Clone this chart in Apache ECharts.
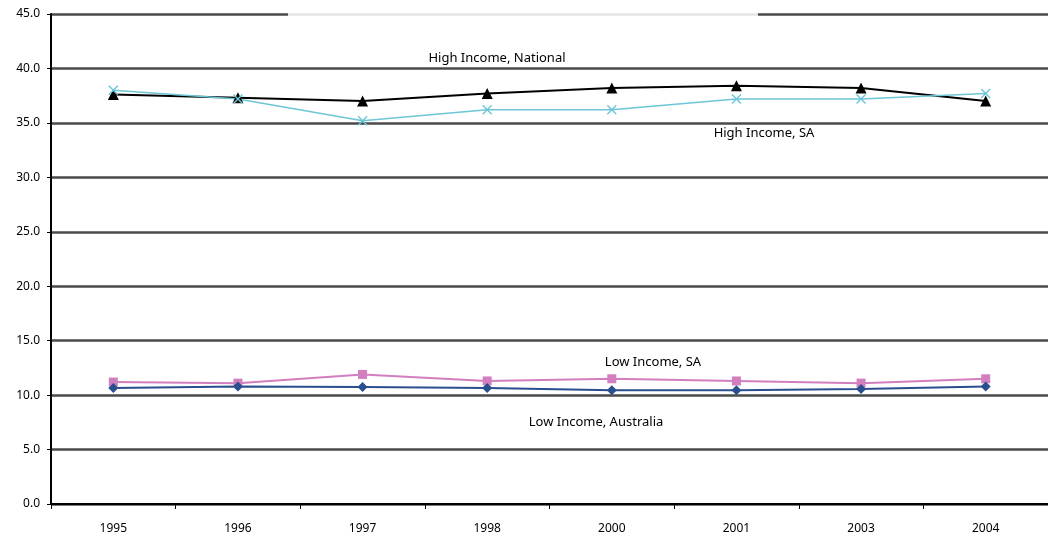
<!DOCTYPE html>
<html>
<head>
<meta charset="utf-8">
<script src="https://cdn.jsdelivr.net/npm/echarts@6/dist/echarts.min.js"></script>
<style>
	html, body { margin: 0; padding: 0; background: #fff; }
	#container { width: 1048px; height: 536px; }
</style>
</head>
<body>
<div id="container"></div>
<script>
var years = ['1995', '1996', '1997', '1998', '2000', '2001', '2003', '2004'];
var highNational = [37.6, 37.3, 37.0, 37.7, 38.2, 38.4, 38.2, 37.0];
var highSA = [38.0, 37.2, 35.2, 36.2, 36.2, 37.2, 37.2, 37.7];
var lowSA = [11.2, 11.1, 11.9, 11.3, 11.5, 11.3, 11.1, 11.5];
var lowAustralia = [10.65, 10.8, 10.75, 10.65, 10.45, 10.45, 10.55, 10.8];

var labelFont = 'Noto Sans';
var crossSymbol = 'path://M0,1L1,0L5,4L9,0L10,1L6,5L10,9L9,10L5,6L1,10L0,9L4,5Z';

var dom = document.getElementById('container');
var myChart = echarts.init(dom);

var option = {
	animation: false,
	backgroundColor: '#fff',
	textStyle: { fontFamily: labelFont },
	grid: {
		left: 51,
		right: -5,
		top: 14,
		bottom: 32,
		containLabel: false
	},
	xAxis: {
		type: 'category',
		data: years,
		boundaryGap: true,
		axisLine: { lineStyle: { color: '#000', width: 2 } },
		axisTick: { show: true, length: 5, lineStyle: { color: '#000', width: 1 } },
		axisLabel: { color: '#000', fontSize: 12, margin: 19, fontFamily: labelFont }
	},
	yAxis: {
		type: 'value',
		min: 0,
		max: 45,
		interval: 5,
		axisLine: { show: true, lineStyle: { color: '#000', width: 2 } },
		axisTick: { show: true, length: 4, lineStyle: { color: '#000' } },
		axisLabel: {
			color: '#000',
			fontSize: 12,
			margin: 11,
			fontFamily: labelFont,
			formatter: function (v) { return v.toFixed(1); }
		},
		splitLine: { show: true, lineStyle: { color: '#4a4a4a', width: 2.5 } }
	},
	series: [
		{
			name: 'High Income, National',
			type: 'line',
			data: highNational,
			symbol: 'triangle',
			symbolSize: 11,
			lineStyle: { color: '#000', width: 2 },
			itemStyle: { color: '#000' }
		},
		{
			name: 'High Income, SA',
			type: 'line',
			data: highSA,
			symbol: crossSymbol,
			symbolSize: 10,
			lineStyle: { color: '#6cc6d6', width: 1.5 },
			itemStyle: { color: '#6cc6d6' }
		},
		{
			name: 'Low Income, SA',
			type: 'line',
			data: lowSA,
			symbol: 'rect',
			symbolSize: 9,
			lineStyle: { color: '#d27fc0', width: 2 },
			itemStyle: { color: '#d27fc0' }
		},
		{
			name: 'Low Income, Australia',
			type: 'line',
			data: lowAustralia,
			symbol: 'diamond',
			symbolSize: 10,
			lineStyle: { color: '#2a4f8f', width: 2 },
			itemStyle: { color: '#2a4f8f' }
		}
	],
	graphic: [
		{
			type: 'rect',
			shape: { x: 288, y: 11, width: 470, height: 6 },
			style: { fill: '#fff', opacity: 0.85 },
			z: 100
		},
		{
			type: 'text',
			x: 497, y: 58,
			style: { text: 'High Income, National', fill: '#000', font: '13px "Noto Sans"', align: 'center', verticalAlign: 'middle' },
			z: 100
		},
		{
			type: 'text',
			x: 764, y: 133,
			style: { text: 'High Income, SA', fill: '#000', font: '13px "Noto Sans"', align: 'center', verticalAlign: 'middle' },
			z: 100
		},
		{
			type: 'text',
			x: 653, y: 362,
			style: { text: 'Low Income, SA', fill: '#000', font: '13px "Noto Sans"', align: 'center', verticalAlign: 'middle' },
			z: 100
		},
		{
			type: 'text',
			x: 596, y: 422,
			style: { text: 'Low Income, Australia', fill: '#000', font: '13px "Noto Sans"', align: 'center', verticalAlign: 'middle' },
			z: 100
		}
	]
};

myChart.setOption(option, true);
</script>
</body>
</html>
